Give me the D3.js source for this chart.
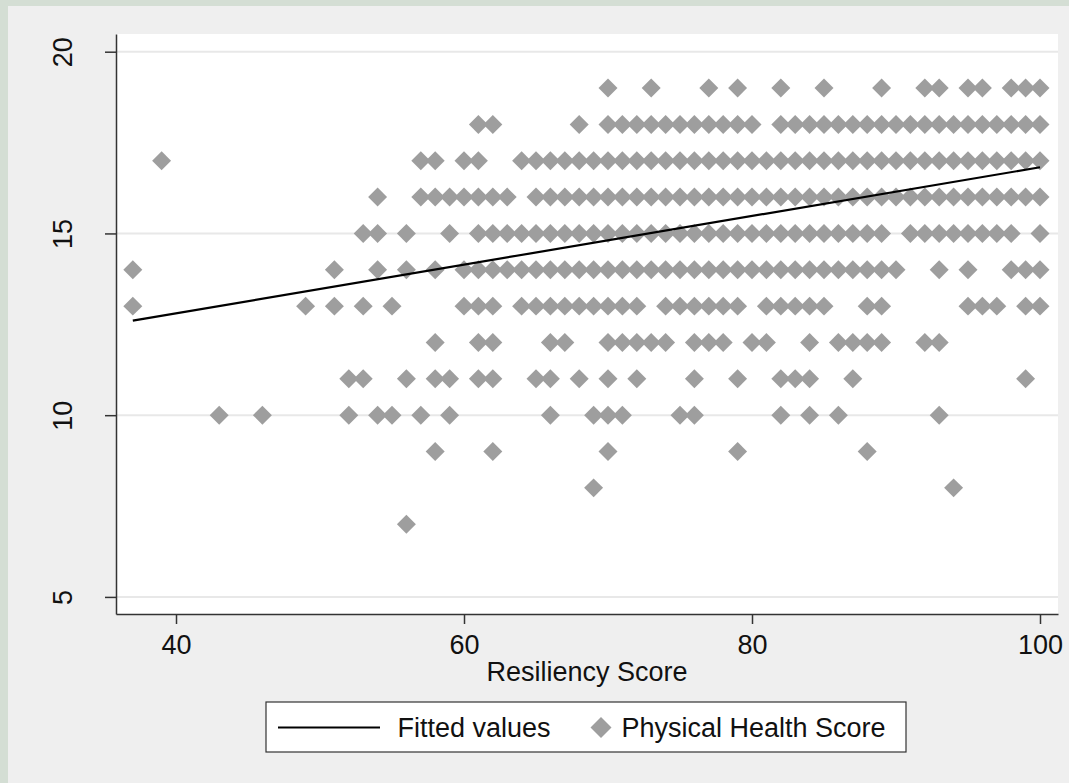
<!DOCTYPE html>
<html>
<head>
<meta charset="utf-8">
<script src="https://cdn.jsdelivr.net/npm/d3@7"></script>
<style>
  html, body { margin: 0; padding: 0; background: #efefef; }
  svg { display: block; }
  text { font-family: "Liberation Sans", Arial, sans-serif; fill: #111; }
</style>
</head>
<body>
<div id="chart"></div>
<script>
// Resiliency scores observed at each physical health score level
const scoresAt19 = [70, 73, 77, 79, 82, 85, 89, 92, 93, 95, 96, 98, 99, 100];
const scoresAt18 = [61, 62, 68, 70, 71, 72, 73, 74, 75, 76, 77, 78, 79, 80, 82, 83, 84, 85, 86, 87, 88, 89, 90,
    91, 92, 93, 94, 95, 96, 97, 98, 99, 100];
const scoresAt17 = [39, 57, 58, 60, 61, 64, 65, 66, 67, 68, 69, 70, 71, 72, 73, 74, 75, 76, 77, 78, 79, 80, 81, 82,
    83, 84, 85, 86, 87, 88, 89, 90, 91, 92, 93, 94, 95, 96, 97, 98, 99, 100];
const scoresAt16 = [54, 57, 58, 59, 60, 61, 62, 63, 65, 66, 67, 68, 69, 70, 71, 72, 73, 74, 75, 76, 77, 78, 79, 80,
    81, 82, 83, 84, 85, 86, 87, 88, 89, 90, 91, 92, 93, 94, 95, 96, 97, 98, 99, 100];
const scoresAt15 = [53, 54, 56, 59, 61, 62, 63, 64, 65, 66, 67, 68, 69, 70, 71, 72, 73, 74, 75, 76, 77, 78, 79, 80,
    81, 82, 83, 84, 85, 86, 87, 88, 89, 91, 92, 93, 94, 95, 96, 97, 98, 100];
const scoresAt14 = [37, 51, 54, 56, 58, 60, 61, 62, 63, 64, 65, 66, 67, 68, 69, 70, 71, 72, 73, 74, 75, 76, 77, 78,
    79, 80, 81, 82, 83, 84, 85, 86, 87, 88, 89, 90, 93, 95, 98, 99, 100];
const scoresAt13 = [37, 49, 51, 53, 55, 60, 61, 62, 64, 65, 66, 67, 68, 69, 70, 71, 72, 74, 75, 76, 77, 78, 79,
    81, 82, 83, 84, 85, 88, 89, 95, 96, 97, 99, 100];
const scoresAt12 = [58, 61, 62, 66, 67, 70, 71, 72, 73, 74, 76, 77, 78, 80, 81, 84, 86, 87, 88, 89, 92, 93];
const scoresAt11 = [52, 53, 56, 58, 59, 61, 62, 65, 66, 68, 70, 72, 76, 79, 82, 83, 84, 87, 99];
const scoresAt10 = [43, 46, 52, 54, 55, 57, 59, 66, 69, 70, 71, 75, 76, 82, 84, 86, 93];
const scoresAt9 = [58, 62, 70, 79, 88];
const scoresAt8 = [69, 94];
const scoresAt7 = [56];

// Fitted regression line end points
const fitX = [37, 100];
const fitY = [12.6, 16.82];

const xTicks = [40, 60, 80, 100];
const yTicks = [5, 10, 15, 20];
const xTitle = "Resiliency Score";
const legendLabels = ["Fitted values", "Physical Health Score"];

const levels = [
    [19, scoresAt19], [18, scoresAt18], [17, scoresAt17], [16, scoresAt16],
    [15, scoresAt15], [14, scoresAt14], [13, scoresAt13], [12, scoresAt12],
    [11, scoresAt11], [10, scoresAt10], [9, scoresAt9], [8, scoresAt8], [7, scoresAt7]
];
const points = levels.flatMap(([y, xs]) => xs.map(x => ({ x, y })));

const width = 1069, height = 783;
const plot = { left: 116, right: 1058, top: 34, bottom: 614 };
const fontSize = 27;
const markerColor = "#9e9e9e";

const x = d3.scaleLinear().domain([35.833, 101.25]).range([plot.left, plot.right]);
const y = d3.scaleLinear().domain([4.53, 20.487]).range([plot.bottom, plot.top]);

const svg = d3.select("#chart").append("svg")
    .attr("width", width)
    .attr("height", height);

// Outer frame
svg.append("rect").attr("width", width).attr("height", height).attr("fill", "#d4ded4");
svg.append("rect").attr("x", 8).attr("y", 6).attr("width", width - 8).attr("height", height - 6)
    .attr("fill", "#efefef");

// Plot region
svg.append("rect")
    .attr("x", plot.left).attr("y", plot.top)
    .attr("width", plot.right - plot.left).attr("height", plot.bottom - plot.top)
    .attr("fill", "#fff");

// Gridlines
svg.append("g").selectAll("line")
    .data(yTicks)
    .join("line")
    .attr("x1", plot.left).attr("x2", plot.right)
    .attr("y1", d => y(d)).attr("y2", d => y(d))
    .attr("stroke", "#e8e8e8")
    .attr("stroke-width", 2);

// Points
const diamond = d3.symbol().type(d3.symbolSquare).size(180);
svg.append("g").selectAll("path")
    .data(points)
    .join("path")
    .attr("d", diamond)
    .attr("transform", d => `translate(${x(d.x)},${y(d.y)}) rotate(45)`)
    .attr("fill", markerColor);

// Fitted line
const line = d3.line().x(d => x(d[0])).y(d => y(d[1]));
svg.append("path")
    .datum(d3.zip(fitX, fitY))
    .attr("d", line)
    .attr("fill", "none")
    .attr("stroke", "#000")
    .attr("stroke-width", 2.2);

// Axes
const xAxis = svg.append("g")
    .attr("transform", `translate(0,${plot.bottom})`)
    .call(d3.axisBottom(x).tickValues(xTicks).tickSize(10).tickSizeOuter(0).tickPadding(11));

const yAxis = svg.append("g")
    .attr("transform", `translate(${plot.left},0)`)
    .call(d3.axisLeft(y).tickValues(yTicks).tickSize(11).tickSizeOuter(0));

[xAxis, yAxis].forEach(ax => {
    ax.select(".domain").attr("stroke", "#333").attr("stroke-width", 1.5);
    ax.selectAll(".tick line").attr("stroke", "#333").attr("stroke-width", 1.5);
    ax.selectAll(".tick text")
        .style("font-size", `${fontSize}px`)
        .style("font-family", "'Liberation Sans', Arial, sans-serif")
        .attr("fill", "#111");
});

xAxis.selectAll(".tick text").attr("dy", "0.71em");

yAxis.selectAll(".tick text")
    .attr("x", 0).attr("dy", 0)
    .attr("text-anchor", "middle")
    .attr("transform", "translate(-44,0) rotate(-90)");

// Axis title
svg.append("text")
    .attr("x", (plot.left + plot.right) / 2)
    .attr("y", 681)
    .attr("text-anchor", "middle")
    .style("font-size", `${fontSize}px`)
    .text(xTitle);

// Legend
const legend = svg.append("g");
legend.append("rect")
    .attr("x", 266).attr("y", 702)
    .attr("width", 640).attr("height", 50)
    .attr("fill", "#fff")
    .attr("stroke", "#333")
    .attr("stroke-width", 1.2);
legend.append("line")
    .attr("x1", 278).attr("x2", 380)
    .attr("y1", 727.5).attr("y2", 727.5)
    .attr("stroke", "#000").attr("stroke-width", 2.2);
legend.append("text")
    .attr("x", 397.5).attr("y", 737)
    .style("font-size", `${fontSize}px`)
    .text(legendLabels[0]);
legend.append("path")
    .attr("d", d3.symbol().type(d3.symbolSquare).size(220))
    .attr("transform", "translate(601,727.5) rotate(45)")
    .attr("fill", markerColor);
legend.append("text")
    .attr("x", 621.5).attr("y", 737)
    .style("font-size", `${fontSize}px`)
    .text(legendLabels[1]);
</script>
</body>
</html>
